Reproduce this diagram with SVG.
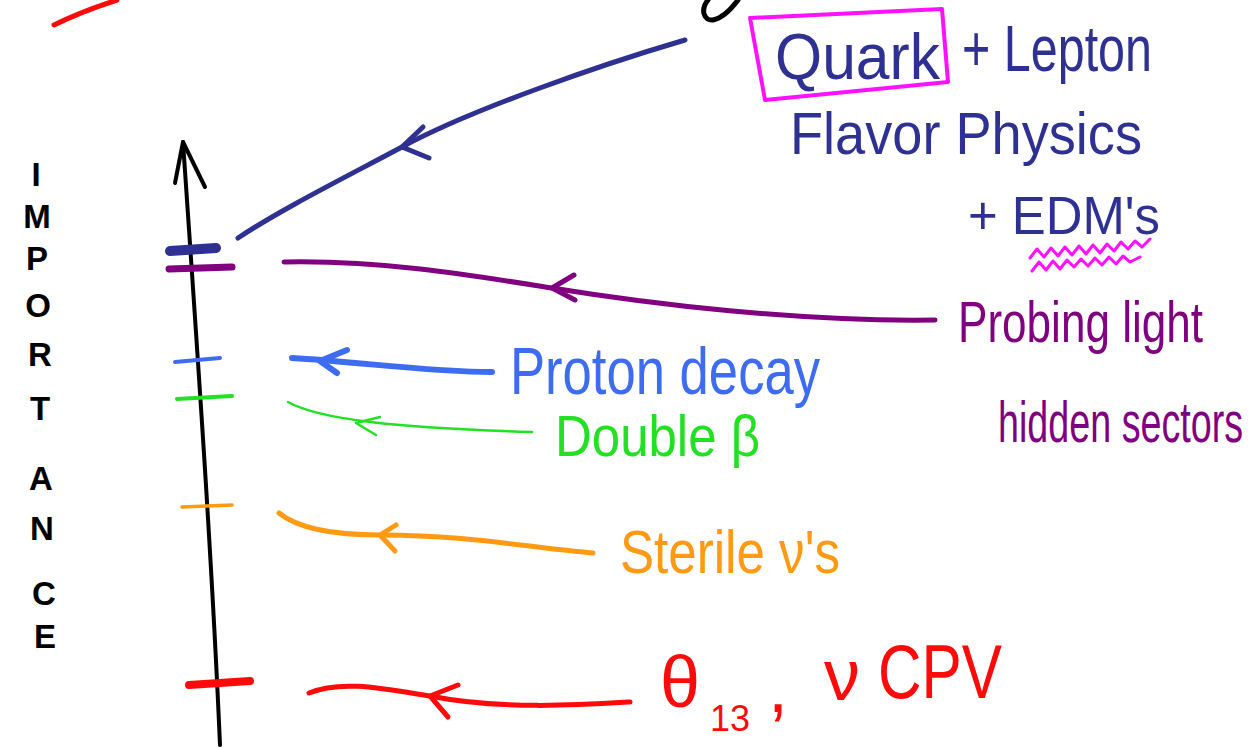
<svg xmlns="http://www.w3.org/2000/svg" width="1257" height="749" viewBox="0 0 1257 749">
<style>
.t{font-family:"Liberation Sans","DejaVu Sans",sans-serif;}
.ln{fill:none;stroke-linecap:round;stroke-linejoin:round;}
.navy{stroke:#2e3192;}
.pur{stroke:#80007f;}
.blu{stroke:#3d6cf2;}
.grn{stroke:#22e022;}
.org{stroke:#ff9a12;}
.red{stroke:#ff0a0a;}
.blk{stroke:#000;}
.mag{stroke:#ff10ff;}
</style>
<rect width="1257" height="749" fill="#fff"/>
<g id="top-marks">
<path class="ln red" stroke-width="5" d="M54,25 Q80,12 117,0"/>
<path class="ln blk" stroke-width="5" d="M708,0 C700,10 704,21 713,20 C723,18 732,8 738,0"/>
</g>
<g id="axis">
<path class="ln blk" stroke-width="4" d="M220,745 C212,560 198,360 183,142"/>
<path class="ln blk" stroke-width="4" d="M175,183 L183,142 L205,187"/>
<path class="ln navy" stroke-width="10" d="M170,251 L216,248"/>
<path class="ln pur" stroke-width="7" d="M169,269 L232,267"/>
<path class="ln blu" stroke-width="4" d="M175,362 L220,358"/>
<path class="ln grn" stroke-width="4" d="M177,399 L232,396"/>
<path class="ln org" stroke-width="3.5" d="M182,507 L232,505"/>
<path class="ln red" stroke-width="8" d="M189,685 L250,681"/>
</g>
<g id="axis-label" class="t" font-size="33" font-weight="bold" fill="#000" text-anchor="middle">
<text x="36" y="186">I</text>
<text x="37" y="228">M</text>
<text x="37" y="270">P</text>
<text x="38" y="317">O</text>
<text x="40" y="366">R</text>
<text x="40" y="420">T</text>
<text x="41" y="490">A</text>
<text x="42" y="540">N</text>
<text x="44" y="605">C</text>
<text x="45" y="648">E</text>
</g>
<g id="connectors">
<path class="ln navy" stroke-width="5" d="M685,40 C600,65 470,110 402,147 C340,180 280,210 238,238"/>
<path class="ln navy" stroke-width="5" d="M423,127 L402,147 L429,158"/>
<path class="ln pur" stroke-width="5" d="M284,262 C380,260 470,275 552,288 C650,304 800,322 935,320"/>
<path class="ln pur" stroke-width="5" d="M574,275 L552,288 L575,300"/>
<path class="ln blu" stroke-width="6" d="M292,358 C360,362 430,372 492,372"/>
<path class="ln blu" stroke-width="6" d="M347,350 L320,361 L337,373"/>
<path class="ln grn" stroke-width="2.5" d="M288,402 C320,420 400,428 532,432"/>
<path class="ln grn" stroke-width="2.5" d="M380,417 L356,423 L376,435"/>
<path class="ln org" stroke-width="5" d="M279,513 C300,530 340,535 380,535 C470,535 530,548 593,553"/>
<path class="ln org" stroke-width="5" d="M396,525 L380,535 L395,551"/>
<path class="ln red" stroke-width="5" d="M309,693 C340,680 380,688 430,696 C500,710 580,705 630,702"/>
<path class="ln red" stroke-width="5" d="M458,685 L430,696 L448,717"/>
</g>
<g id="node-flavor">
<polygon class="ln mag" stroke-width="4" points="750,18 942,9 948,82 765,100"/>
<text class="t" x="775" y="79" font-size="64" fill="#2e3192" textLength="165" lengthAdjust="spacingAndGlyphs">Quark</text>
<text class="t" x="962" y="71" font-size="64" fill="#2e3192" textLength="190" lengthAdjust="spacingAndGlyphs">+ Lepton</text>
<text class="t" x="790" y="154" font-size="60" fill="#2e3192" textLength="352" lengthAdjust="spacingAndGlyphs">Flavor Physics</text>
<text class="t" x="968" y="234" font-size="54" fill="#2e3192" textLength="192" lengthAdjust="spacingAndGlyphs">+ EDM's</text>
<polyline class="ln mag" stroke-width="3" points="1030,258 1037,249 1044,257 1051,248 1058,256 1065,247 1072,255 1079,246 1086,254 1093,245 1100,253 1107,244 1114,251 1121,242 1128,249 1135,241 1142,247 1150,239"/>
<polyline class="ln mag" stroke-width="3" points="1032,271 1039,262 1046,270 1053,261 1060,269 1067,260 1074,267 1081,259 1088,266 1095,258 1102,265 1109,257 1116,264 1123,256 1130,262 1140,257"/>
</g>
<g id="node-hidden">
<text class="t" transform="translate(958,342) scale(0.76,1)" x="0" y="0" font-size="58" fill="#80007f">Probing light</text>
<text class="t" transform="translate(998,442) scale(0.65,1)" x="0" y="0" font-size="58" fill="#80007f">hidden sectors</text>
</g>
<g id="node-proton">
<text class="t" x="510" y="394" font-size="66" fill="#3d6cf2" textLength="310" lengthAdjust="spacingAndGlyphs">Proton decay</text>
</g>
<g id="node-double">
<text class="t" x="555" y="456" font-size="58" fill="#22e022" textLength="205" lengthAdjust="spacingAndGlyphs">Double β</text>
</g>
<g id="node-sterile">
<text class="t" x="620" y="573" font-size="62" fill="#ff9a12" textLength="220" lengthAdjust="spacingAndGlyphs">Sterile ν's</text>
</g>
<g id="node-theta">
<text class="t" font-size="72" fill="#ff0a0a"><tspan x="660" y="707">θ</tspan><tspan x="710" y="731" font-size="36">13</tspan><tspan x="768" y="712">,</tspan><tspan x="824" y="700">ν</tspan></text>
<text class="t" x="878" y="698" font-size="76" fill="#ff0a0a" textLength="124" lengthAdjust="spacingAndGlyphs">CPV</text>
</g>
</svg>
